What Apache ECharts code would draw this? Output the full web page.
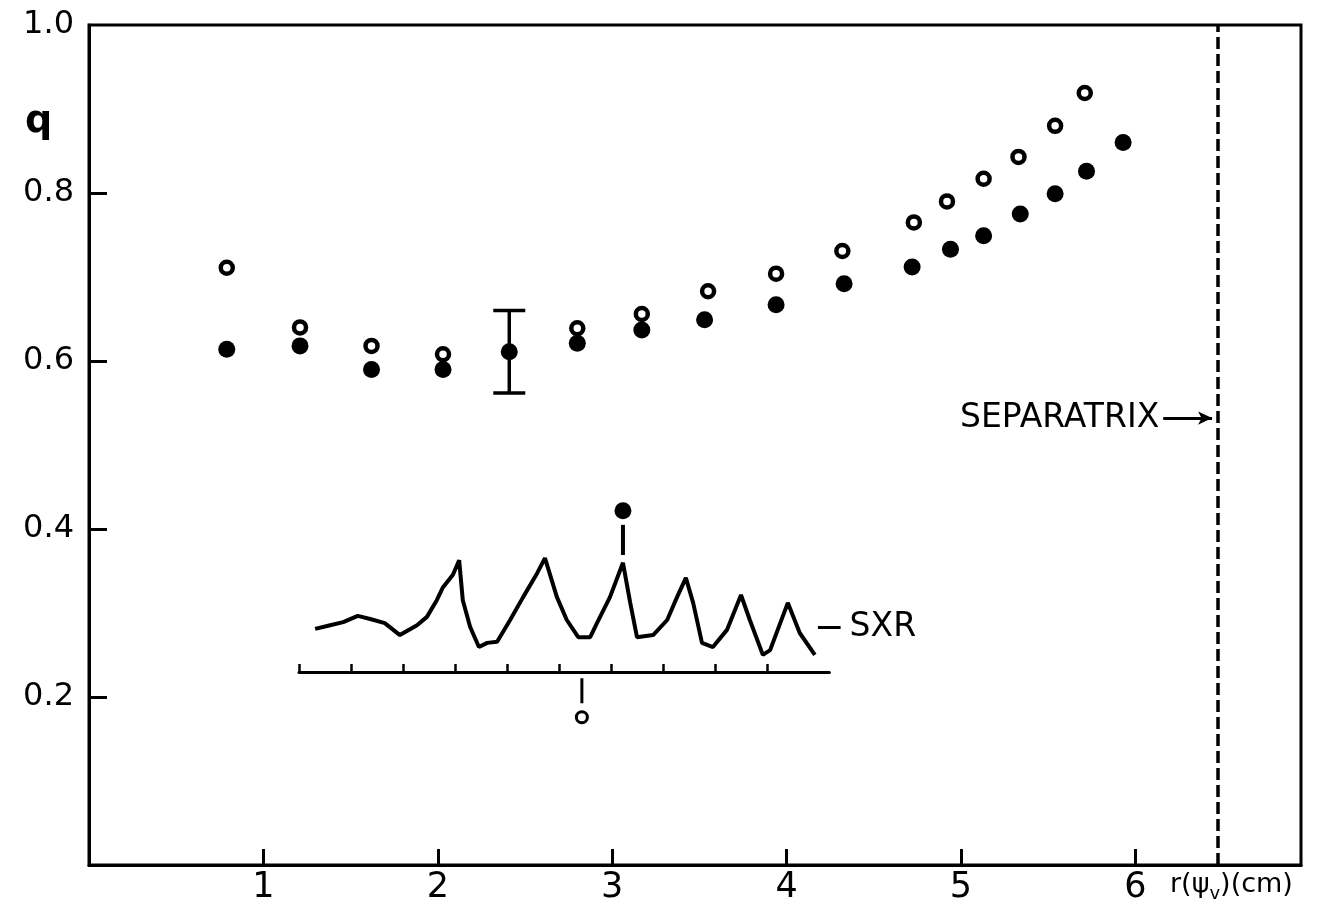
<!DOCTYPE html>
<html>
<head>
<meta charset="utf-8">
<script src="https://cdn.jsdelivr.net/npm/echarts@6/dist/echarts.min.js"></script>
<style>
html, body { margin: 0; padding: 0; background: #fff; }
#q-profile { width: 1325px; height: 907px; }
</style>
</head>
<body>
<div id="q-profile"></div>
<script>
// q profile vs r(psi_v), open and filled points
var openR = [0.79, 1.21, 1.62, 2.03, 2.80, 3.17, 3.55, 3.94, 4.32, 4.73, 4.92, 5.13, 5.33, 5.54, 5.71];
var openQ = [0.711, 0.640, 0.618, 0.608, 0.639, 0.656, 0.683, 0.704, 0.731, 0.765, 0.790, 0.817, 0.843, 0.880, 0.919];

var fullR = [0.79, 1.21, 1.62, 2.03, 2.41, 2.80, 3.17, 3.53, 3.94, 4.33, 4.72, 4.94, 5.13, 5.34, 5.54, 5.72, 5.93];
var fullQ = [0.614, 0.618, 0.590, 0.590, 0.611, 0.621, 0.637, 0.649, 0.667, 0.692, 0.712, 0.733, 0.749, 0.775, 0.799, 0.826, 0.860];

// error bar on the point at r = 2.41
var errBar = [[2.41, 0.562, 0.660]];

var separatrixR = 6.47;
var xTicks = [1, 2, 3, 4, 5, 6];
var yTicks = [0.2, 0.4, 0.6, 0.8, 1.0];

// inset: SXR trace (time in tick units, amplitude arbitrary)
var sxrT = [0.31, 0.60, 0.85, 1.13, 1.37, 1.65, 1.94, 2.27, 2.46, 2.65, 2.77, 2.96, 3.08, 3.15, 3.29, 3.46, 3.62, 3.81,
            4.06, 4.31, 4.58, 4.73, 4.96, 5.15, 5.37, 5.60, 5.73, 5.98, 6.23, 6.37, 6.50, 6.81, 7.08, 7.27, 7.44, 7.58,
            7.75, 7.96, 8.23, 8.50, 8.67, 8.92, 9.06, 9.40, 9.63, 9.92];
var sxrA = [0.83, 0.90, 0.96, 1.08, 1.02, 0.94, 0.71, 0.90, 1.06, 1.38, 1.63, 1.87, 2.15, 1.38, 0.87, 0.48, 0.56, 0.58,
            1.00, 1.44, 1.90, 2.19, 1.44, 1.00, 0.67, 0.67, 0.94, 1.44, 2.10, 1.33, 0.67, 0.71, 1.00, 1.44, 1.81, 1.33,
            0.56, 0.48, 0.81, 1.48, 1.00, 0.33, 0.42, 1.33, 0.75, 0.33];
var sxrTicks = [0, 1, 2, 3, 4, 5, 6, 7, 8, 9];
var dotMark = [6.23, 3.10];      // filled marker above the trace
var dotStem = [2.25, 2.83];
var zeroMark = [5.44, -0.87];    // open marker under the inset axis
var zeroStem = [-0.12, -0.60];

var FONT = 'DejaVu Sans';

var chart = echarts.init(document.getElementById('q-profile'));

function zip(a, b) {
    return a.map(function (v, i) { return [v, b[i]]; });
}

var option = {
    backgroundColor: '#fff',
    animation: false,
    grid: [
        { left: 89, top: 25, width: 1212, height: 840, show: true, borderColor: '#000', borderWidth: 3 },
        { left: 299, top: 490, width: 530.4, height: 234 }
    ],
    graphic: [
        { type: 'text', left: 25, top: 103, style: { text: 'q', font: 'bold 38px "DejaVu Sans"', fill: '#000' } },
        {
            type: 'text', left: 1170, top: 871,
            style: {
                text: '{a|r(ψ}{s|v}{a|)(cm)}',
                rich: {
                    a: { fontFamily: FONT, fontSize: 27, lineHeight: 38, fill: '#000' },
                    s: { fontFamily: FONT, fontSize: 18, lineHeight: 18, verticalAlign: 'bottom', fill: '#000' }
                }
            }
        }
    ],
    xAxis: [
        {
            type: 'value', gridIndex: 0, min: 0, max: 6.95, interval: 1,
            axisLine: { lineStyle: { color: '#000', width: 3 } },
            axisTick: { inside: true, length: 16, customValues: xTicks, lineStyle: { color: '#000', width: 3 } },
            axisLabel: {
                customValues: xTicks, color: '#000', fontFamily: FONT, fontSize: 35, margin: 5,
                formatter: function (v) { return (v > 0 && v % 1 === 0) ? String(v) : ''; }
            },
            splitLine: { show: false }
        },
        {
            type: 'value', gridIndex: 1, min: 0, max: 10.2, interval: 1,
            axisLine: { onZero: true, lineStyle: { color: '#000', width: 3 } },
            axisTick: { inside: true, length: 8, customValues: sxrTicks, lineStyle: { color: '#000', width: 2.5 } },
            axisLabel: { show: false },
            splitLine: { show: false }
        }
    ],
    yAxis: [
        {
            type: 'value', gridIndex: 0, min: 0, max: 1, interval: 0.2,
            axisLine: { lineStyle: { color: '#000', width: 3 } },
            axisTick: { inside: true, length: 18, customValues: [0.2, 0.4, 0.6, 0.8], lineStyle: { color: '#000', width: 3 } },
            axisLabel: {
                customValues: yTicks, color: '#000', fontFamily: FONT, fontSize: 32, margin: 15,
                formatter: function (v) { return v > 0 ? v.toFixed(1) : ''; }
            },
            splitLine: { show: false }
        },
        { type: 'value', gridIndex: 1, min: -1, max: 3.5, show: false }
    ],
    series: [
        {
            name: 'err',
            type: 'custom',
            xAxisIndex: 0, yAxisIndex: 0,
            data: errBar,
            z: 1,
            renderItem: function (params, api) {
                var lo = api.coord([api.value(0), api.value(1)]);
                var hi = api.coord([api.value(0), api.value(2)]);
                var w = 16;
                var st = { stroke: '#000', lineWidth: 3.5 };
                return {
                    type: 'group',
                    children: [
                        { type: 'line', shape: { x1: lo[0], y1: lo[1], x2: hi[0], y2: hi[1] }, style: st },
                        { type: 'line', shape: { x1: lo[0] - w, y1: lo[1], x2: lo[0] + w, y2: lo[1] }, style: st },
                        { type: 'line', shape: { x1: hi[0] - w, y1: hi[1], x2: hi[0] + w, y2: hi[1] }, style: st }
                    ]
                };
            }
        },
        {
            name: 'open',
            type: 'scatter',
            xAxisIndex: 0, yAxisIndex: 0,
            symbol: 'circle',
            symbolSize: 12,
            itemStyle: { color: '#fff', borderColor: '#000', borderWidth: 4.5, opacity: 1 },
            data: zip(openR, openQ),
            z: 2,
            markLine: {
                silent: true,
                symbol: ['none', 'none'],
                label: { show: false },
                data: [
                    { xAxis: separatrixR, lineStyle: { type: [12, 5], width: 3.5, color: '#000' } },
                    [
                        {
                            coord: [6.16, 0.532], symbol: 'none',
                            lineStyle: { type: 'solid', width: 3, color: '#000' },
                            label: { show: true, position: 'start', distance: 4, formatter: 'SEPARATRIX', color: '#000', fontFamily: FONT, fontSize: 33 }
                        },
                        { coord: [6.44, 0.532], symbol: 'arrow', symbolSize: [10, 14] }
                    ],
                    [
                        {
                            coord: [4.18, 0.283], symbol: 'none',
                            lineStyle: { type: 'solid', width: 3, color: '#000' },
                            label: { show: true, position: 'end', distance: 9, formatter: 'SXR', color: '#000', fontFamily: FONT, fontSize: 33 }
                        },
                        { coord: [4.31, 0.283], symbol: 'none' }
                    ]
                ]
            }
        },
        {
            name: 'filled',
            type: 'scatter',
            xAxisIndex: 0, yAxisIndex: 0,
            symbol: 'circle',
            symbolSize: 17,
            itemStyle: { color: '#000', opacity: 1 },
            data: zip(fullR, fullQ),
            z: 3
        },
        {
            name: 'SXR',
            type: 'line',
            xAxisIndex: 1, yAxisIndex: 1,
            showSymbol: false,
            lineStyle: { color: '#000', width: 4 },
            data: zip(sxrT, sxrA)
        },
        {
            name: 'dotStem',
            type: 'line',
            xAxisIndex: 1, yAxisIndex: 1,
            showSymbol: false,
            lineStyle: { color: '#000', width: 4 },
            data: [[dotMark[0], dotStem[0]], [dotMark[0], dotStem[1]]]
        },
        {
            name: 'zeroStem',
            type: 'line',
            xAxisIndex: 1, yAxisIndex: 1,
            showSymbol: false,
            lineStyle: { color: '#000', width: 3 },
            data: [[zeroMark[0], zeroStem[0]], [zeroMark[0], zeroStem[1]]]
        },
        {
            name: 'dotMark',
            type: 'scatter',
            xAxisIndex: 1, yAxisIndex: 1,
            symbolSize: 17,
            itemStyle: { color: '#000', opacity: 1 },
            data: [dotMark]
        },
        {
            name: 'zeroMark',
            type: 'scatter',
            xAxisIndex: 1, yAxisIndex: 1,
            symbolSize: 11,
            itemStyle: { color: '#fff', borderColor: '#000', borderWidth: 3, opacity: 1 },
            data: [zeroMark]
        }
    ]
};

chart.setOption(option);
window.addEventListener('resize', function () {
    chart.resize();
});
</script>
</body>
</html>
